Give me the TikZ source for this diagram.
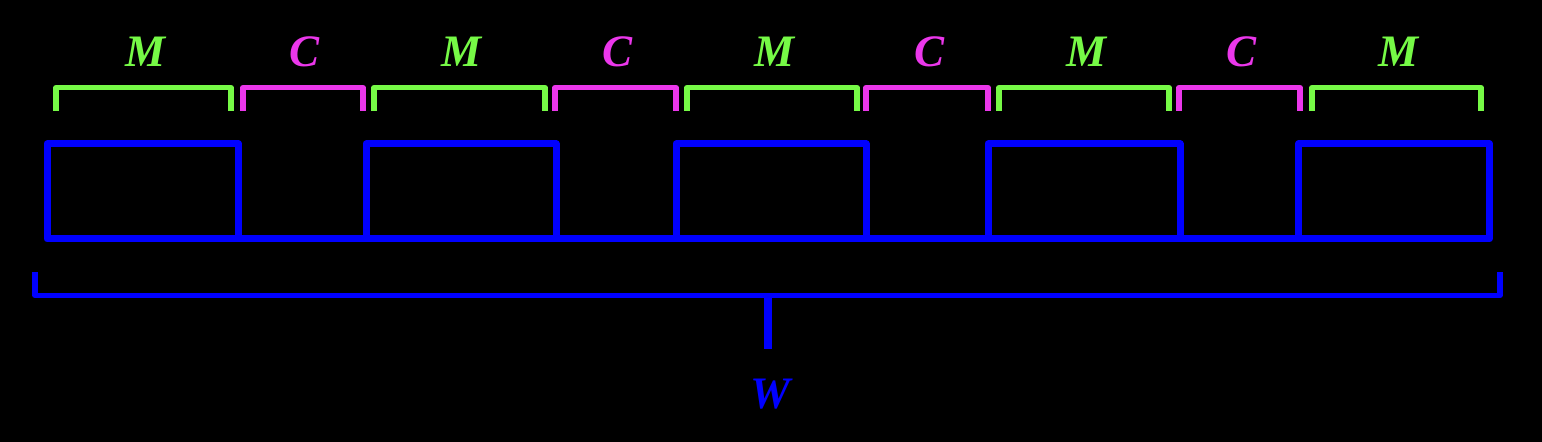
\documentclass[tikz,border=0pt]{standalone}
\usepackage{fontspec}
\setmainfont{Liberation Serif}
\usepackage{tikz}

\definecolor{mgreen}{RGB}{118,250,70}
\definecolor{cmag}{RGB}{235,55,235}
\definecolor{wblue}{RGB}{0,0,255}

\tikzset{
  boxline/.style={wblue, line width=3.5pt, line join=round},
  bracket/.style={line width=2.6pt, line join=round},
  lab/.style={font=\fontsize{22.5}{27}\selectfont\bfseries\itshape, anchor=base, inner sep=0pt}
}

\begin{document}
\begin{tikzpicture}[x=0.5pt, y=-0.5pt]
    \fill[black] (0,0) rectangle (1542,442);
    \useasboundingbox (0,0) rectangle (1542,442);

    % the five blocks on a common base
    \foreach \l/\r in {47/238.5, 366/556, 676/866, 988/1180, 1298.5/1489.5}
      \draw[boxline] (\l,239) rectangle (\r,144);
    \draw[boxline] (47,239) -- (1489.5,239);

    % brackets M and C with their labels
    \foreach \l/\r/\c/\t/\n in {56/231/mgreen/M/m1, 243/363/cmag/C/c1,
        374/545/mgreen/M/m2, 555/676/cmag/C/c2, 687/857/mgreen/M/m3,
        866/988/cmag/C/c3, 999/1169/mgreen/M/m4, 1179/1300/cmag/C/c4,
        1312/1481/mgreen/M/m5}
    {
      \draw[bracket, \c] (\l,111) |- (\r,87.5) -- (\r,111);
      \node[lab, text=\c] (\n) at ({(\l+\r)/2+2},67) {\t};
    }

    % overall width
    \draw[wblue, line width=2.7pt, line join=round] (35,272) |- (1500,295.5) -- (1500,272);
    \coordinate (wmid) at (768,295.5);
    \node[lab, text=wblue] (w) at (770,409) {W};
    \draw[wblue, line width=3.8pt] (wmid) -- (768,349);
\end{tikzpicture}
\end{document}
